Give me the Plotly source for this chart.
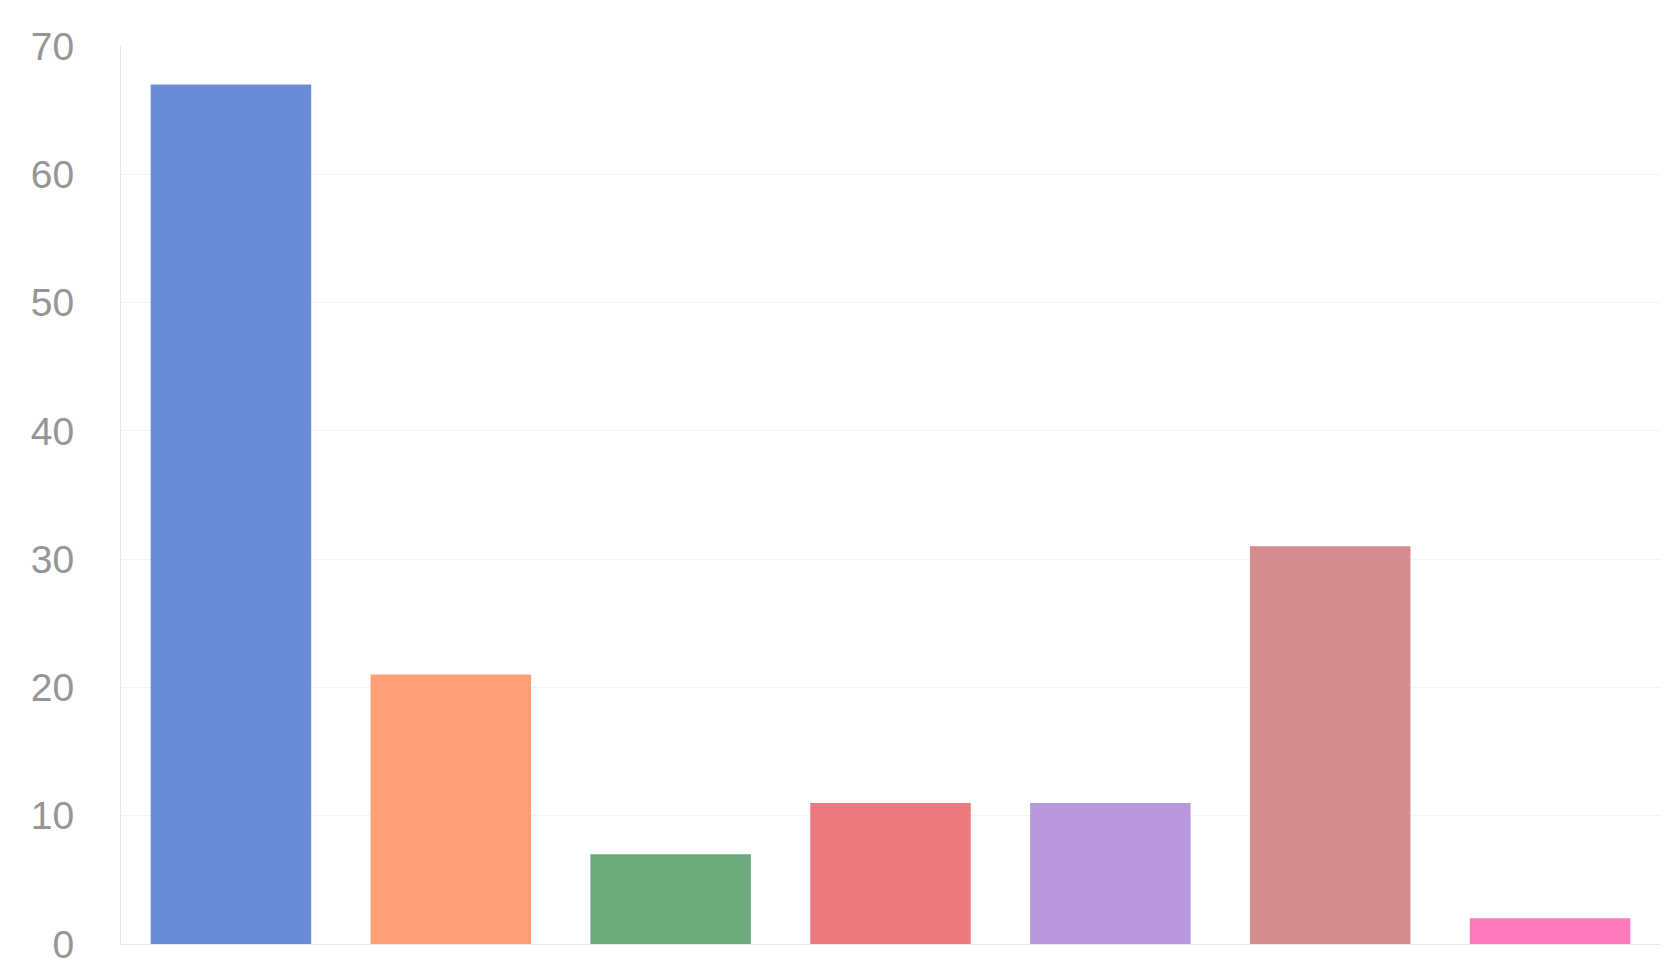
import plotly.graph_objects as go

categories = ["A", "B", "C", "D", "E", "F", "G"]
values = [67, 21, 7, 11, 11, 31, 2]
colors = ["#6a8cd6", "#ffa078", "#6aaa7c", "#ec7880", "#b898dc", "#d48c90", "#ff7aba"]
y_ticks = [0, 10, 20, 30, 40, 50, 60, 70]

fig = go.Figure(go.Bar(x=categories, y=values, marker=dict(color=colors, line=dict(width=0)), width=0.73))
fig.update_layout(
    width=1674, height=970,
    margin=dict(l=113, r=22, t=38, b=17),
    paper_bgcolor="white", plot_bgcolor="white",
    showlegend=False,
    font=dict(family="Liberation Sans", color="#959595", size=39),
)
fig.update_xaxes(showticklabels=False, showgrid=False, showline=True, linecolor="#e6e4ea", linewidth=1, ticks="")
fig.update_yaxes(range=[0, 70], tickvals=y_ticks, showgrid=True, gridcolor="#f3f2f6", gridwidth=1,
                 showline=True, linecolor="#e6e4ea", zeroline=False, ticks="", ticklabelstandoff=38,
                 ticklabeloverflow="allow")
fig.write_html("out.html")
